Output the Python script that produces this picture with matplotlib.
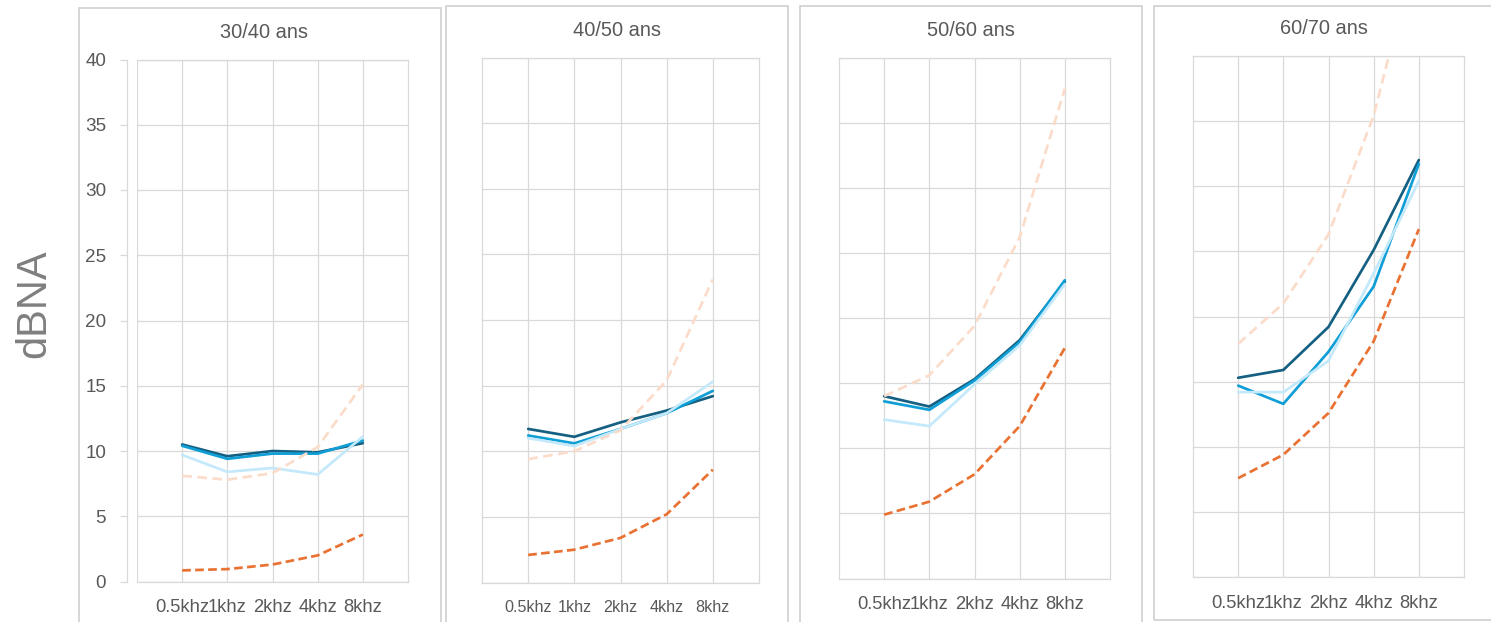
import matplotlib
matplotlib.use("Agg")
import matplotlib.pyplot as plt
from matplotlib.patches import Rectangle

# ---------------- data ----------------
freqs = ["0.5khz", "1khz", "2khz", "4khz", "8khz"]
age_groups = ["30/40 ans", "40/50 ans", "50/60 ans", "60/70 ans"]
y_ticks = [0, 5, 10, 15, 20, 25, 30, 35, 40]
y_label = "dBNA"

# one list per panel (age group), 5 frequencies each
series_navy = [
    [10.5, 9.6, 10.0, 9.9, 10.6],
    [11.7, 11.1, 12.2, 13.1, 14.2],
    [14.0, 13.2, 15.3, 18.3, 22.8],
    [15.3, 15.9, 19.2, 25.1, 32.0],
]
series_blue = [
    [10.4, 9.4, 9.8, 9.8, 10.8],
    [11.2, 10.6, 11.7, 12.9, 14.6],
    [13.6, 12.95, 15.2, 18.15, 22.9],
    [14.7, 13.3, 17.3, 22.3, 31.7],
]
series_lightblue = [
    [9.7, 8.4, 8.7, 8.2, 11.1],
    [11.0, 10.4, 11.7, 12.9, 15.3],
    [12.2, 11.7, 14.9, 17.9, 22.6],
    [14.2, 14.2, 16.6, 23.3, 30.4],
]
series_orange = [
    [0.85, 0.95, 1.3, 2.0, 3.6],
    [2.1, 2.5, 3.4, 5.2, 8.6],
    [4.9, 5.9, 8.0, 11.7, 17.7],
    [7.6, 9.4, 12.6, 18.1, 26.7],
]
series_peach = [
    [8.1, 7.8, 8.3, 10.3, 15.1],
    [9.4, 10.0, 11.6, 15.4, 23.1],
    [14.0, 15.6, 19.4, 26.2, 37.6],
    [17.9, 21.0, 26.3, 35.4, 49.0],
]

# ---------------- styling / layout ----------------
W, H = 1491, 622
plt.rcParams['font.family'] = ['Liberation Sans', 'DejaVu Sans']
TXT = '#595959'
GRID = '#d9d9d9'
BORDER = '#cccccc'
C_NAVY = '#156082'
C_BLUE = '#0F9ED5'
C_LIGHT = '#C3E9FA'
C_ORANGE = '#E97132'
C_PEACH = '#FBDCCA'

fig = plt.figure(figsize=(W / 100, H / 100), dpi=100)
fig.patch.set_facecolor('white')

def frac_rect(x0, x1, ytop, ybot):
    return [x0 / W, 1 - ybot / H, (x1 - x0) / W, (ybot - ytop) / H]

# outer chart boxes (pixels: left, right, top, bottom)
boxes = [(79, 440.5, 8, 640), (445.5, 788, 6, 640), (800, 1142, 6, 640), (1154, 1500, 5.7, 620)]
for (l, r, t, b) in boxes:
    fig.patches.append(Rectangle((l / W, 1 - b / H), (r - l) / W, (b - t) / H,
                                 transform=fig.transFigure, fill=False,
                                 edgecolor=BORDER, linewidth=1.1, zorder=0))

# plot areas (pixels: left, right, top(40), bottom(0))
areas = [(137, 408, 59.5, 581.5), (482, 759, 57.5, 582.5), (839, 1110, 57.5, 578.5), (1193, 1464, 55.7, 577.3)]
titles_xy = [(264, 32), (617, 30), (971, 30), (1324, 28)]
xtick_sizes = [13.2, 11.6, 13.2, 13.2]

x = list(range(len(freqs)))
LW = 1.95
for i, (l, r, t, b) in enumerate(areas):
    ax = fig.add_axes(frac_rect(l, r, t, b))
    ax.set_xlim(-1, 5)
    ax.set_ylim(0, 40)
    ax.set_yticks(y_ticks)
    ax.set_xticks(x, freqs)
    ax.grid(True, color=GRID, linewidth=0.9)
    ax.set_axisbelow(True)
    for s in ax.spines.values():
        s.set_color(GRID)
        s.set_linewidth(0.9)
    ax.tick_params(axis='x', length=0, pad=12.5, labelsize=xtick_sizes[i], labelcolor=TXT)
    if i == 0:
        ax.spines['left'].set_position(('outward', 7.2))
        ax.axvline(-1, color=GRID, linewidth=0.9, zorder=0.5)
        ax.tick_params(axis='y', length=5, width=0.9, color=GRID, pad=10,
                       labelsize=13.6, labelcolor=TXT)
    else:
        ax.tick_params(axis='y', length=0, labelleft=False)

    ax.plot(x, series_navy[i], color=C_NAVY, lw=LW, solid_capstyle='round', zorder=3)
    ax.plot(x, series_blue[i], color=C_BLUE, lw=LW, solid_capstyle='round', zorder=3)
    ax.plot(x, series_lightblue[i], color=C_LIGHT, lw=LW, solid_capstyle='round', zorder=3)
    ax.plot(x, series_orange[i], color=C_ORANGE, lw=LW, linestyle=(0, (3.2, 1.6)), zorder=3)
    ax.plot(x, series_peach[i], color=C_PEACH, lw=LW, linestyle=(0, (3.6, 2.0)), zorder=3)

    tx, ty = titles_xy[i]
    fig.text(tx / W, 1 - ty / H, age_groups[i], ha='center', va='center',
             fontsize=14.4, color=TXT)

fig.text(34 / W, 1 - 304 / H, y_label, rotation=90, ha='center', va='center',
         fontsize=30, color='#7f7f7f')

fig.savefig('out.png', dpi=100, facecolor='white')
